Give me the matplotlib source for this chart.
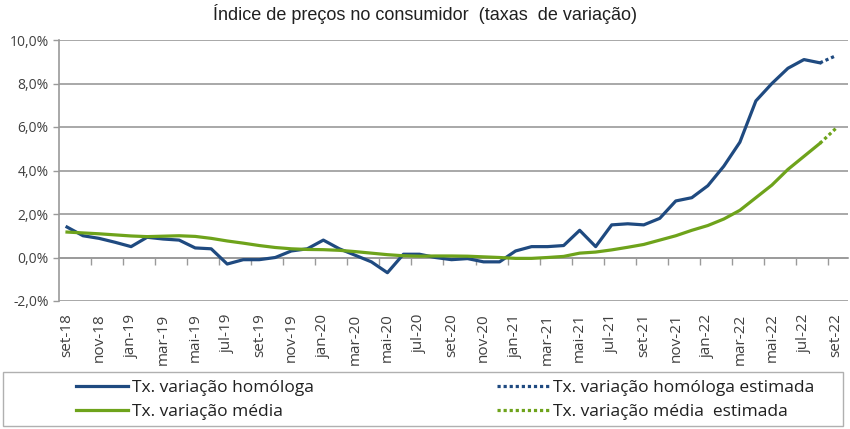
import matplotlib.pyplot as plt
from matplotlib.patches import Rectangle
import numpy as np

plt.rcParams['font.family'] = ['Open Sans', 'DejaVu Sans']

# months from set-18 to set-22
meses = ['jan', 'fev', 'mar', 'abr', 'mai', 'jun', 'jul', 'ago', 'set', 'out', 'nov', 'dez']
periodos = []
for k in range(49):
    m = (8 + k) % 12
    a = 18 + (8 + k) // 12
    periodos.append('{}-{}'.format(meses[m], a))

homologa = [1.4, 1.0, 0.88, 0.7, 0.5, 0.93, 0.85, 0.8, 0.44, 0.4, -0.3, -0.1,
            -0.1, 0.0, 0.3, 0.4, 0.8, 0.4, 0.1, -0.2, -0.7, 0.15, 0.15, 0.0,
            -0.1, -0.05, -0.2, -0.2, 0.3, 0.5, 0.5, 0.55, 1.25, 0.5, 1.5, 1.55,
            1.5, 1.8, 2.6, 2.75, 3.3, 4.2, 5.3, 7.2, 8.0, 8.7, 9.1, 8.95]
homologa_est = 9.28

media = [1.17, 1.13, 1.09, 1.04, 0.99, 0.96, 0.98, 1.0, 0.97, 0.88, 0.76, 0.66,
         0.55, 0.46, 0.4, 0.37, 0.36, 0.33, 0.27, 0.2, 0.13, 0.08, 0.06, 0.07,
         0.07, 0.06, 0.03, 0.0, -0.04, -0.04, 0.0, 0.05, 0.2, 0.25, 0.35, 0.47,
         0.6, 0.8, 1.0, 1.25, 1.47, 1.77, 2.17, 2.75, 3.33, 4.05, 4.65, 5.25]
media_est = 5.94

azul = '#1f4a80'
verde = '#6ea31b'
cinza = '#9a9a9a'
texto = '#404040'
pontilhado = (0, (1, 0.9))

fig = plt.figure(figsize=(8.5, 4.29), dpi=100)
ax = fig.add_axes([59 / 850, 1 - 301 / 429, 789 / 850, 261 / 429])

x = np.arange(len(periodos))
n = len(homologa)
l1, = ax.plot(x[:n], homologa, color=azul, lw=2.3)
l2, = ax.plot(x[n - 1:], [homologa[-1], homologa_est], color=azul, lw=2.3, ls=pontilhado)
l3, = ax.plot(x[:n], media, color=verde, lw=2.3)
l4, = ax.plot(x[n - 1:], [media[-1], media_est], color=verde, lw=2.3, ls=pontilhado)

ax.set_xlim(-0.5, 48.75)
ax.set_ylim(-2, 10)
ax.set_yticks(np.arange(-2, 11, 2))
ax.set_yticklabels(['{:.1f}%'.format(v).replace('.', ',') for v in np.arange(-2, 11, 2)])
ax.yaxis.grid(True, color=cinza, lw=1.2)
ax.set_axisbelow(True)
for s in ['top', 'right', 'bottom']:
    ax.spines[s].set_visible(False)
ax.spines['left'].set_color(cinza)
ax.spines['left'].set_linewidth(1.2)
ax.tick_params(axis='y', colors=cinza, labelcolor=texto, labelsize=10, length=4, width=1)

ax.set_xticks(x[::2])
ax.set_xticklabels(periodos[::2], rotation=90, fontsize=11, color=texto)
ax.tick_params(axis='x', length=0, pad=9)

# category axis crossing at 0%
eixo = ax.secondary_xaxis(2 / 12)
eixo.spines['bottom'].set_color(cinza)
eixo.spines['bottom'].set_linewidth(1.2)
eixo.set_xticks(np.arange(1.5, 49, 2))
eixo.set_xticklabels([])
eixo.tick_params(axis='x', colors=cinza, length=5, width=1)

fig.text(0.5, 1 - 14 / 429, 'Índice de preços no consumidor  (taxas  de variação)',
         ha='center', va='center', fontsize=13, color='#202020',
         family=['Liberation Sans', 'DejaVu Sans'])

fig.add_artist(Rectangle((3 / 850, 3 / 429), 840 / 850, 54 / 429,
                         transform=fig.transFigure, fill=False, ec='#b0b0b0', lw=1))
opts = dict(loc='center left', frameon=False, fontsize=12.5, handlelength=3.0,
            handletextpad=0.25, labelspacing=0.45, borderpad=0, labelcolor='#202020')
fig.legend([l1, l3], ['Tx. variação homóloga', 'Tx. variação média'],
           bbox_to_anchor=(67 / 850, 29 / 429), **opts)
fig.legend([l2, l4], ['Tx. variação homóloga estimada', 'Tx. variação média  estimada'],
           bbox_to_anchor=(488 / 850, 29 / 429), **opts)

fig.savefig('out.png', dpi=100)
